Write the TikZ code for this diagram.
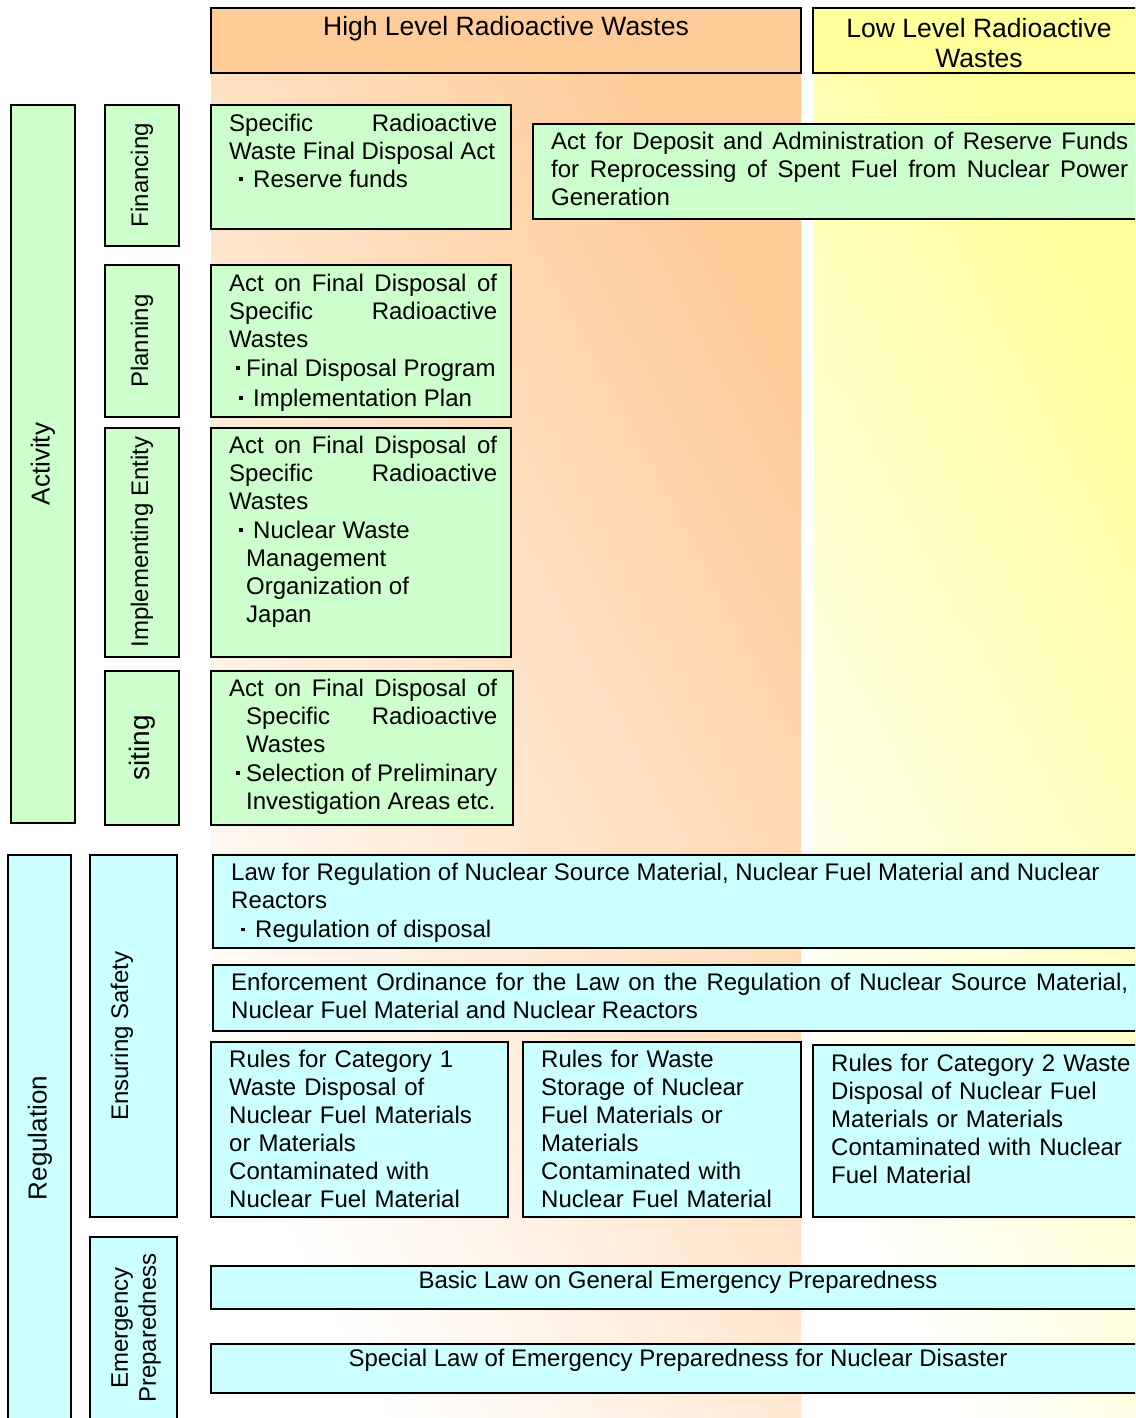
\documentclass[tikz,border=0pt]{standalone}
\usepackage{fontspec}
\setmainfont{Liberation Sans}
\usetikzlibrary{fit,calc}
\definecolor{hiOrange}{HTML}{FFCC99}
\definecolor{loYellow}{HTML}{FFFF99}
\definecolor{actGreen}{HTML}{CCFFCC}
\definecolor{regCyan}{HTML}{CCFFFF}
\newcommand\bul[1][24pt]{\makebox[#1]{\raisebox{6.5pt}{\rule{3.6pt}{3.6pt}}}}
\newcommand\ind{\hspace*{17pt}}
\tikzset{
  bx/.style={draw=black, line width=1.5pt, inner sep=0pt, outer sep=0pt},
  gbx/.style={bx, fill=actGreen},
  cbx/.style={bx, fill=regCyan},
  body/.style={anchor=north west, inner sep=0pt, align=justify,
    font=\fontsize{24}{28}\selectfont,
    execute at begin node={\hyphenpenalty=10000\tolerance=10000\hbadness=10000}},
  plain/.style={body, align=left},
  hdr/.style={inner sep=0pt, align=center, font=\fontsize{26.5}{30}\selectfont},
  ctr/.style={inner sep=0pt, align=center, font=\fontsize{24}{28}\selectfont},
  side/.style={ctr, rotate=90},
}
\begin{document}
\begin{tikzpicture}[x=1pt,y=-1pt]
\useasboundingbox (0,0) rectangle (1135,1418);
\clip (0,0) rectangle (1135,1418);
% column backgrounds
\shade[top color=hiOrange, bottom color=white, shading angle=-62] (211,73) rectangle (801,1418);
\shade[top color=loYellow, bottom color=white, shading angle=-62] (813,73) rectangle (1135,1418);
% headers
\node[bx, fill=hiOrange, fit={(211,8)(801,73)}] (hlw) {};
\node[hdr] (hlwT) at (506,29) {High Level Radioactive Wastes};
\node[bx, fill=loYellow, fit={(813,8)(1147,73)}] (llw) {};
\node[hdr] (llwT) at (979,43) {Low Level Radioactive\\Wastes};
% activity side labels
\node[gbx, fit={(11,105)(75,823)}] (act) {};
\node[side, font=\fontsize{26}{30}\selectfont] (actT) at (43,464) {Activity};
\node[gbx, fit={(105,105)(179,246)}] (fin) {};
\node[side] (finT) at (142,175) {Financing};
\node[gbx, fit={(105,265)(179,417)}] (pla) {};
\node[side] (plaT) at (142,341) {Planning};
\node[gbx, fit={(105,428)(179,657)}] (imp) {};
\node[side] (impT) at (142,542) {Implementing Entity};
\node[gbx, fit={(105,671)(179,825)}] (sit) {};
\node[side, font=\fontsize{28}{32}\selectfont] (sitT) at (142,748) {siting};
% activity content boxes
\node[gbx, fit={(211,105)(511,229)}] (b1) {};
\node[body, text width=268pt] (b1T) at (229,114)
  {Specific Radioactive\linebreak Waste Final Disposal Act\\ \bul Reserve funds};
\node[gbx, fit={(533,124)(1145,219)}] (b2) {};
\node[body, text width=577pt] (b2T) at (551,132)
  {Act for Deposit and Administration of Reserve Funds\linebreak for Reprocessing of Spent Fuel from Nuclear Power\linebreak Generation};
\node[gbx, fit={(211,265)(511,417)}] (b3) {};
\node[body, text width=268pt] (b3T) at (229,274)
  {Act on Final Disposal of\linebreak Specific Radioactive\linebreak Wastes\\[1pt] \bul[17pt]Final Disposal Program\\[2pt] \bul Implementation Plan};
\node[gbx, fit={(211,428)(511,657)}] (b4) {};
\node[body, text width=268pt] (b4T) at (229,436)
  {Act on Final Disposal of\linebreak Specific Radioactive\linebreak Wastes\\[1pt] \bul Nuclear Waste\\ \ind Management\\ \ind Organization of\\ \ind Japan};
\node[gbx, fit={(211,671)(513,825)}] (b5) {};
\node[body, text width=268pt] (b5T) at (229,679)
  {Act on Final Disposal of\linebreak \ind Specific Radioactive\linebreak \ind Wastes\\[1pt] \bul[17pt]Selection of Preliminary\\ \ind Investigation Areas etc.};
% regulation side labels
\node[cbx, fit={(8,855)(71,1421)}] (reg) {};
\node[side, font=\fontsize{26}{30}\selectfont] (regT) at (40,1138) {Regulation};
\node[cbx, fit={(90,855)(177,1217)}] (ens) {};
\node[side] (ensT) at (122,1036) {Ensuring Safety};
\node[cbx, fit={(90,1237)(177,1419)}] (emg) {};
\node[side] (emgT) at (136,1328) {Emergency\\Preparedness};
% regulation content boxes
\node[cbx, fit={(213,855)(1145,948)}] (c1) {};
\node[body, text width=900pt] (c1T) at (231,863)
  {Law for Regulation of Nuclear Source Material, Nuclear Fuel Material and Nuclear\\ Reactors\\[1pt] \bul Regulation of disposal};
\node[cbx, fit={(213,965)(1145,1031)}] (c2) {};
\node[body, text width=897pt] (c2T) at (231,973)
  {Enforcement Ordinance for the Law on the Regulation of Nuclear Source Material,\linebreak Nuclear Fuel Material and Nuclear Reactors};
\node[cbx, fit={(211,1042)(508,1217)}] (c3) {};
\node[plain, text width=275pt] (c3T) at (229,1050)
  {Rules for Category 1\\ Waste Disposal of\\ Nuclear Fuel Materials\\ or Materials\\ Contaminated with\\ Nuclear Fuel Material};
\node[cbx, fit={(523,1042)(801,1217)}] (c4) {};
\node[plain, text width=255pt] (c4T) at (541,1050)
  {Rules for Waste\\ Storage of Nuclear\\ Fuel Materials or\\ Materials\\ Contaminated with\\ Nuclear Fuel Material};
\node[cbx, fit={(813,1045)(1145,1217)}] (c5) {};
\node[plain, text width=300pt] (c5T) at (831,1054)
  {Rules for Category 2 Waste\\ Disposal of Nuclear Fuel\\ Materials or Materials\\ Contaminated with Nuclear\\ Fuel Material};
\node[cbx, fit={(211,1266)(1145,1309)}] (c6) {};
\node[ctr] (c6T) at (678,1282) {Basic Law on General Emergency Preparedness};
\node[cbx, fit={(211,1344)(1145,1393)}] (c7) {};
\node[ctr] (c7T) at (678,1360) {Special Law of Emergency Preparedness for Nuclear Disaster};
\end{tikzpicture}
\end{document}
